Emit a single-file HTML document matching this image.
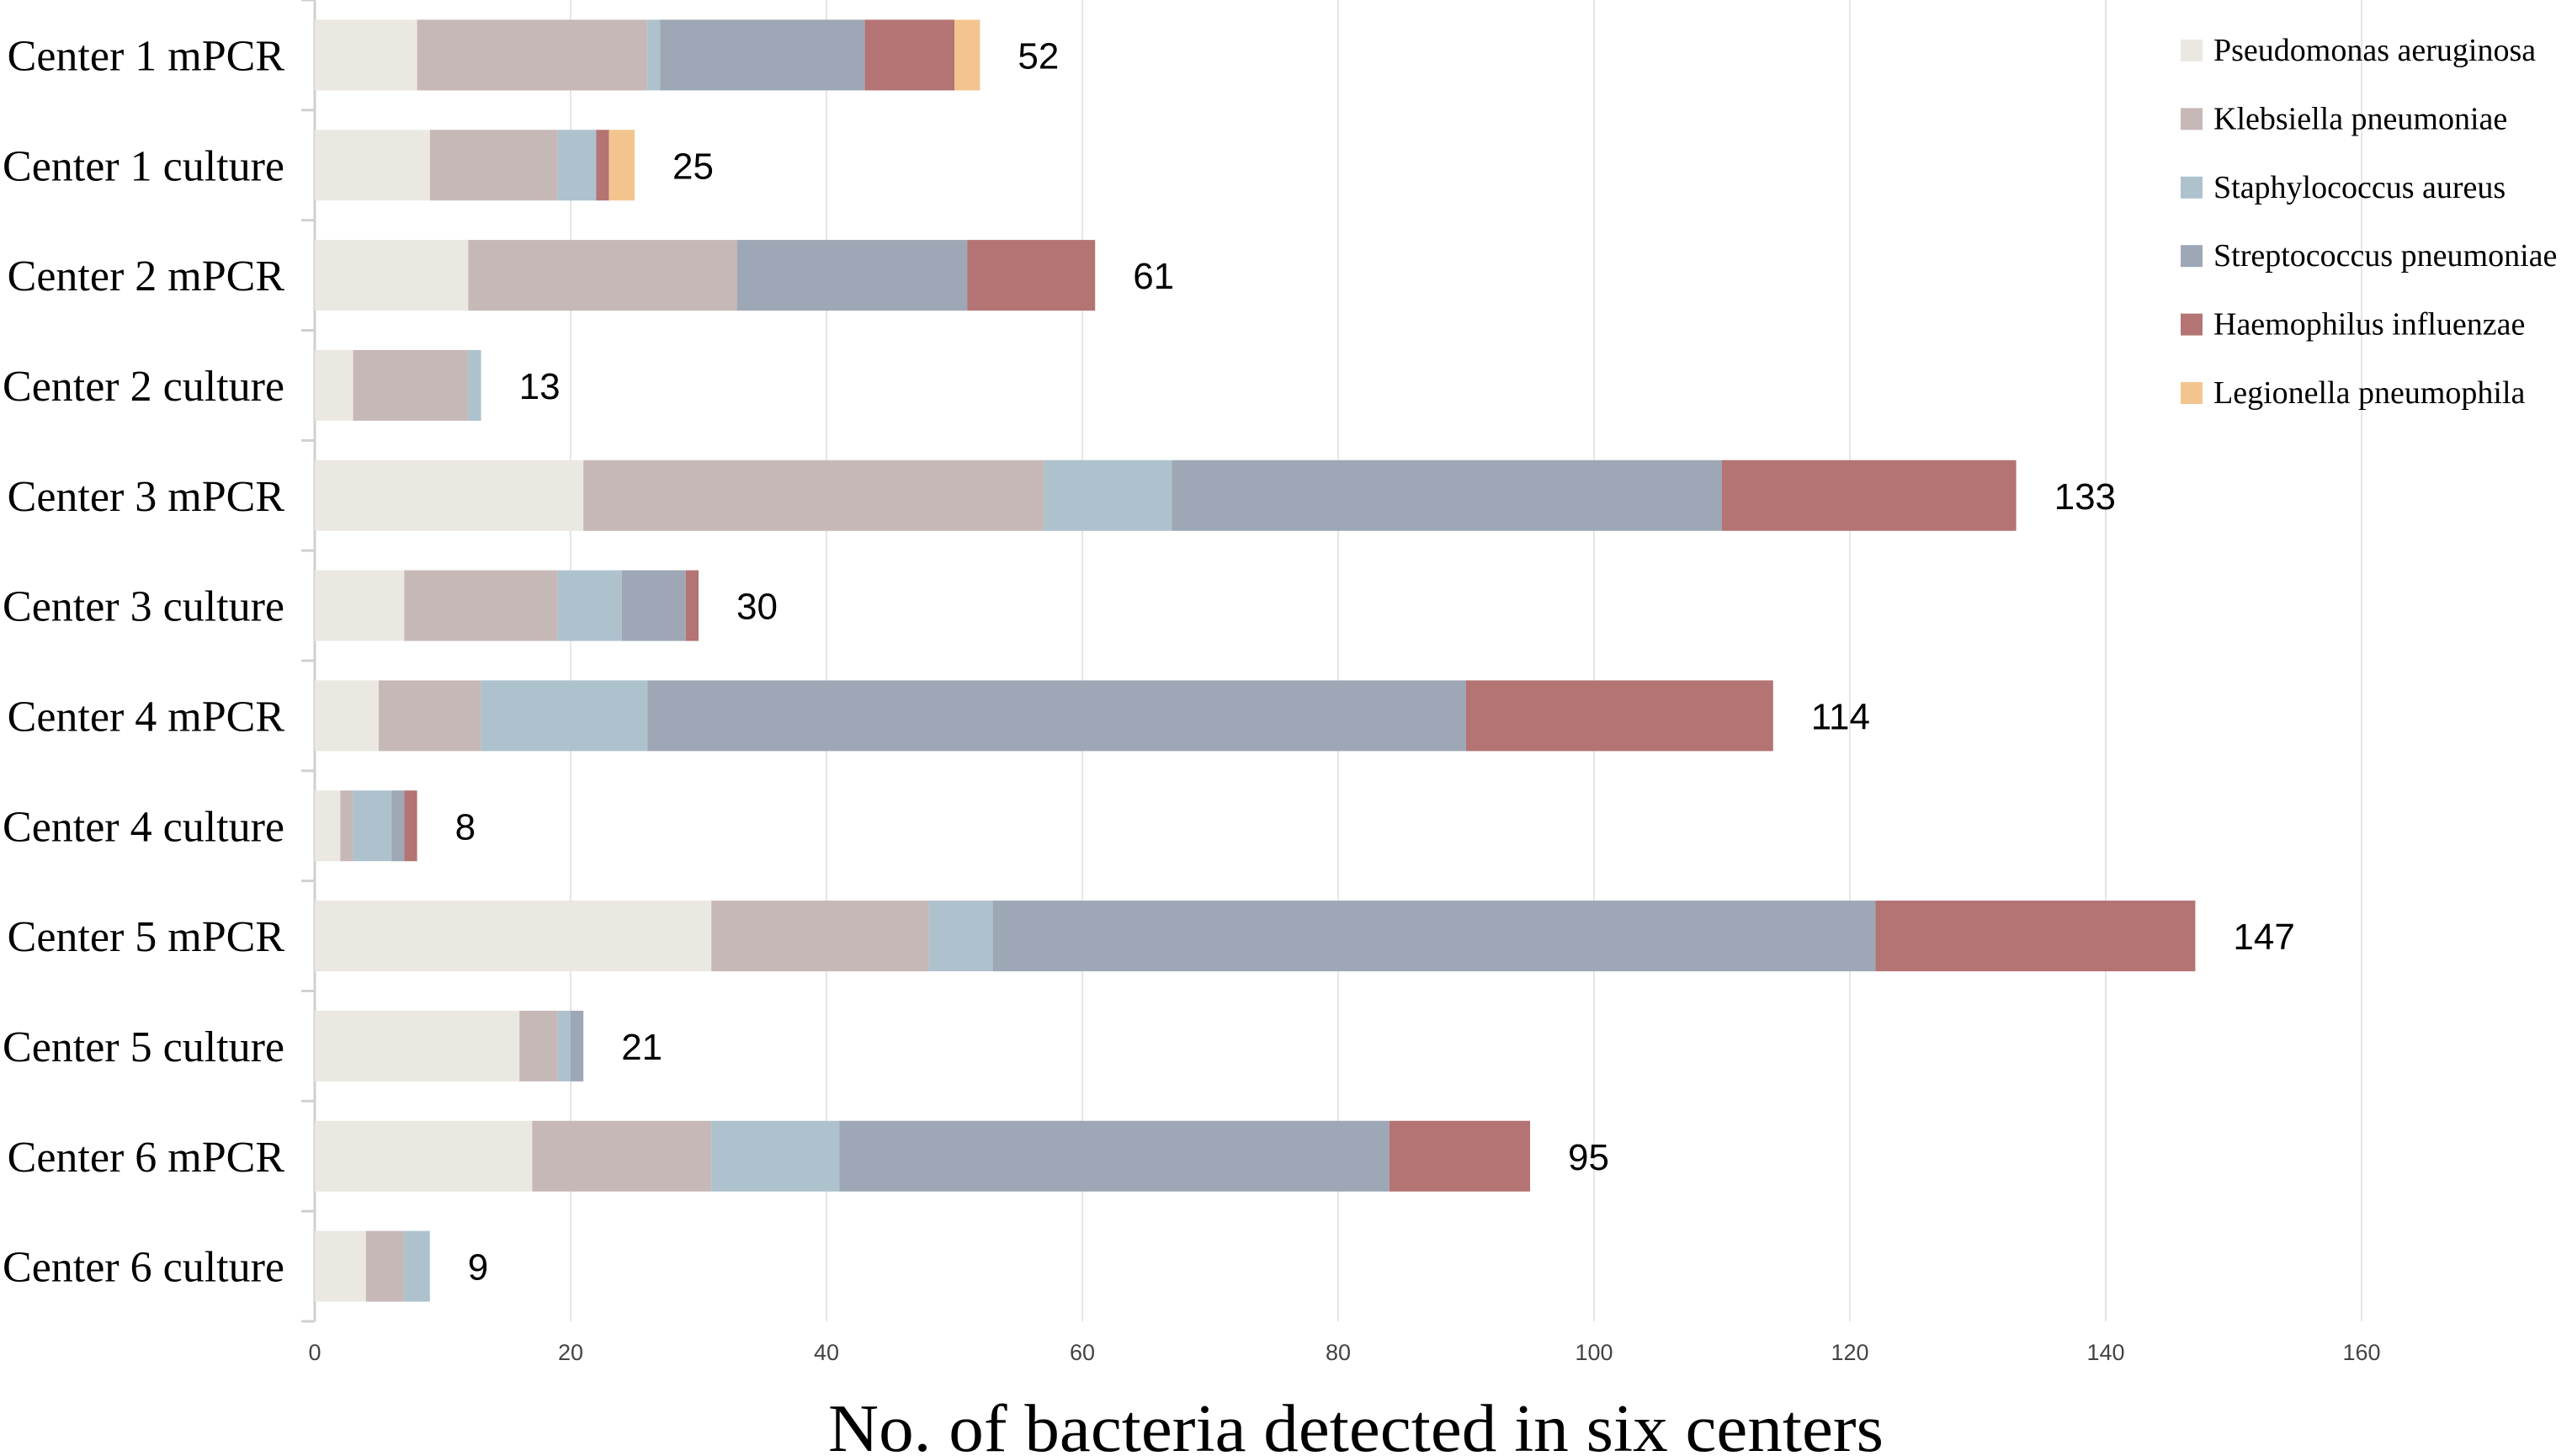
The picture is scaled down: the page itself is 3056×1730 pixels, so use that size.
<!DOCTYPE html>
<html><head><meta charset="utf-8"><style>
html,body{margin:0;padding:0;background:#fff;}
svg{display:block;}
</style></head><body>
<svg id="chart" width="3056" height="1730" xmlns="http://www.w3.org/2000/svg"></svg>
<script>
const categories = ["Center 1 mPCR","Center 1 culture","Center 2 mPCR","Center 2 culture","Center 3 mPCR","Center 3 culture","Center 4 mPCR","Center 4 culture","Center 5 mPCR","Center 5 culture","Center 6 mPCR","Center 6 culture"];
const seriesNames = ["Pseudomonas aeruginosa","Klebsiella pneumoniae","Staphylococcus aureus","Streptococcus pneumoniae","Haemophilus influenzae","Legionella pneumophila"];
const pseudomonas   = [8, 9, 12, 3, 21, 7, 5, 2, 31, 16, 17, 4];
const klebsiella    = [18,10, 21, 9, 36,12, 8, 1, 17, 3, 14, 3];
const staphylococcus= [1, 3, 0, 1, 10, 5, 13, 3, 5, 1, 10, 2];
const streptococcus = [16,0, 18, 0, 43, 5, 64, 1, 69, 1, 43, 0];
const haemophilus   = [7, 1, 10, 0, 23, 1, 24, 1, 25, 0, 11, 0];
const legionella    = [2, 2, 0, 0, 0, 0, 0, 0, 0, 0, 0, 0];
const xTicks = [0,20,40,60,80,100,120,140,160];
const colors = ["#ebe8e2","#c7b8b8","#adc2cd","#9ea7b5","#b37473","#f3c58e"];
const series = [pseudomonas, klebsiella, staphylococcus, streptococcus, haemophilus, legionella];

const NS="http://www.w3.org/2000/svg";
const svg=document.getElementById('chart');
const X0=374, X1=2806, XMAX=160, YTOP=0, YBOT=1570;
const band=(YBOT-YTOP)/categories.length, barH=84;
const xs=v=>X0+(v/XMAX)*(X1-X0);
const yb=i=>YTOP+i*band;
function mk(tag,attrs){const e=document.createElementNS(NS,tag);for(const k in attrs)e.setAttribute(k,attrs[k]);svg.appendChild(e);return e;}

xTicks.forEach(t=>{
  if(t===0) return;
  const g=mk('line',{x1:xs(t),x2:xs(t),y1:YTOP,y2:YBOT,stroke:'#e6e6e6','stroke-width':2});
  
  
});
xTicks.forEach(t=>{
  const l=mk('text',{x:xs(t),y:1616,'text-anchor':'middle','font-family':'Liberation Sans, sans-serif','font-size':27,fill:'#444'});
  l.textContent=t;
  
  
});
const ax=mk('line',{x1:X0,x2:X0,y1:YTOP,y2:YBOT,stroke:'#d0d0d0','stroke-width':3});


for(let i=0;i<=categories.length;i++){
  const tk=mk('line',{x1:X0-16,x2:X0,y1:yb(i),y2:yb(i),stroke:'#d0d0d0','stroke-width':3});
  
  
}
categories.forEach((c,i)=>{
  const y=yb(i)+(band-barH)/2;
  let acc=0;
  series.forEach((s,k)=>{
    const v=s[i]; if(!v) return;
    const r=mk('rect',{x:xs(acc),y:y,width:xs(acc+v)-xs(acc),height:barH,fill:colors[k]});
    
    
    acc+=v;
  });
  const lab=mk('text',{x:338,y:yb(i)+band/2+18,'text-anchor':'end','font-family':'Liberation Serif, serif','font-size':52,fill:'#000'});
  lab.textContent=c;
  
  
  const tot=mk('text',{x:xs(acc)+45,y:yb(i)+band/2+16,'font-family':'Liberation Sans, sans-serif','font-size':44,fill:'#000'});
  tot.textContent=acc;
  
  
});
seriesNames.forEach((n,k)=>{
  const cy=60+k*81.4;
  const sw=mk('rect',{x:2591,y:cy-13,width:26,height:26,fill:colors[k]});
  
  
  const t=mk('text',{x:2630,y:cy+12,'font-family':'Liberation Serif, serif','font-size':38,fill:'#000'});
  t.textContent=n;
  
  
});
const title=mk('text',{x:1611,y:1724,'text-anchor':'middle','font-family':'Liberation Serif, serif','font-size':80,fill:'#000',textLength:1254,lengthAdjust:'spacingAndGlyphs'});
title.textContent='No. of bacteria detected in six centers';


</script>
</body></html>
